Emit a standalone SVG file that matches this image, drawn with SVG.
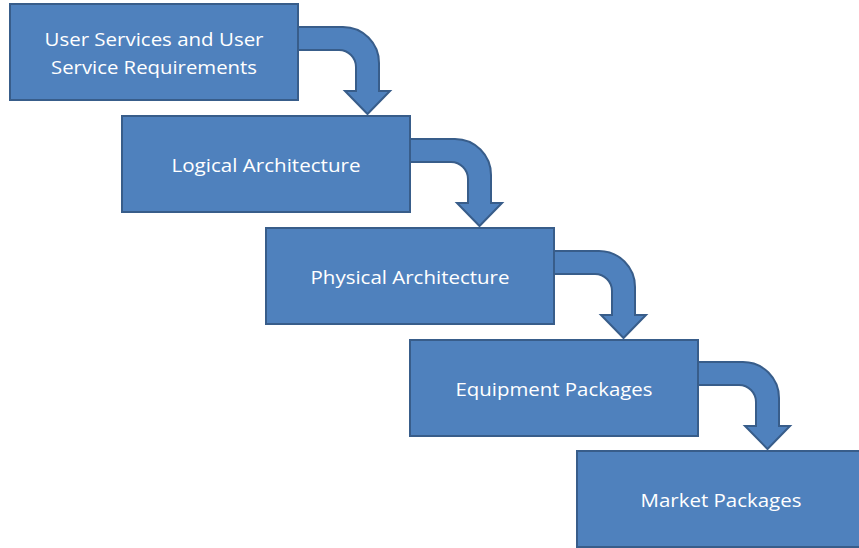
<svg xmlns="http://www.w3.org/2000/svg" width="859" height="548" viewBox="0 0 859 548">
<style>
.box{fill:#4F81BD;stroke:#385D8A;stroke-width:2}
.arr{fill:#4F81BD;stroke:#385D8A;stroke-width:2;stroke-linejoin:miter}
.lbl{fill:#FFFFFF;font-family:"Open Sans","Noto Sans","Liberation Sans",sans-serif;font-size:19px;text-anchor:middle}
</style>
<rect width="859" height="548" fill="#FFFFFF"/>
<g id="connectors">
<path class="arr" d="M297,27 H343 A36 36 0 0 1 379,63 V91 H390 L367.5,114 L345,91 H356 V67 A17 17 0 0 0 339,50 H297 Z"/>
<path class="arr" d="M409,139 H455 A36 36 0 0 1 491,175 V203 H502 L479.5,226 L457,203 H468 V179 A17 17 0 0 0 451,162 H409 Z"/>
<path class="arr" d="M553,251 H599 A36 36 0 0 1 635,287 V315 H646 L623.5,338 L601,315 H612 V291 A17 17 0 0 0 595,274 H553 Z"/>
<path class="arr" d="M697,362 H743 A36 36 0 0 1 779,398 V426 H790 L767.5,449 L745,426 H756 V402 A17 17 0 0 0 739,385 H697 Z"/>
</g>
<g id="node1">
<rect class="box" x="10" y="4" width="288" height="96"/>
<text class="lbl" x="154" y="46" textLength="219" lengthAdjust="spacingAndGlyphs">User Services and User</text>
<text class="lbl" x="154" y="74" textLength="206" lengthAdjust="spacingAndGlyphs">Service Requirements</text>
</g>
<g id="node2">
<rect class="box" x="122" y="116" width="288" height="96"/>
<text class="lbl" x="266" y="172" textLength="189" lengthAdjust="spacingAndGlyphs">Logical Architecture</text>
</g>
<g id="node3">
<rect class="box" x="266" y="228" width="288" height="96"/>
<text class="lbl" x="410" y="284" textLength="199" lengthAdjust="spacingAndGlyphs">Physical Architecture</text>
</g>
<g id="node4">
<rect class="box" x="410" y="340" width="288" height="96"/>
<text class="lbl" x="554" y="396" textLength="197" lengthAdjust="spacingAndGlyphs">Equipment Packages</text>
</g>
<g id="node5">
<rect class="box" x="577" y="451" width="292" height="96"/>
<text class="lbl" x="721" y="507" textLength="161" lengthAdjust="spacingAndGlyphs">Market Packages</text>
</g>
</svg>
